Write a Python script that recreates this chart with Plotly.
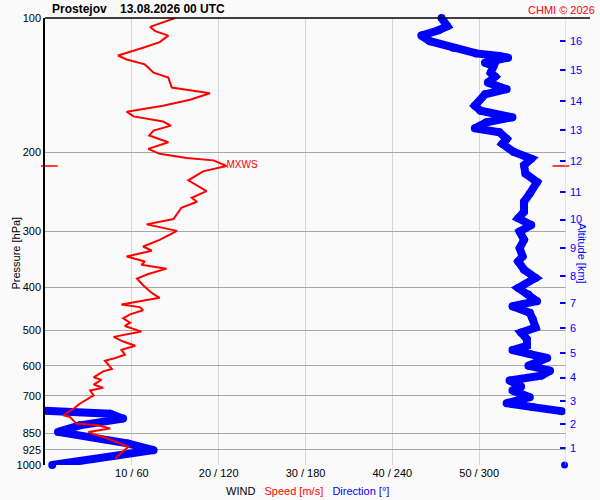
import plotly.graph_objects as go

# wind speed profile (red), m/s vs pressure hPa
speed_p = [100.0, 104.7, 107.0, 109.5, 113.2, 116.6, 121.3, 123.8, 127.0, 132.5,
           135.9, 143.1, 144.8, 147.3, 152.3, 157.1, 162.0, 166.0, 170.5, 174.1,
           178.6, 183.2, 189.6, 196.2, 201.3, 205.8, 208.2, 214.3, 220.3, 230.7,
           244.0, 252.5, 257.7, 265.7, 281.6, 289.5, 299.4, 313.5, 324.5, 331.7,
           341.5, 350.4, 356.3, 363.7, 373.9, 382.8, 396.1, 412.1, 422.7, 430.0,
           437.3, 443.4, 450.8, 460.2, 469.7, 480.4, 488.6, 503.0, 516.8, 529.4,
           541.2, 552.4, 566.7, 576.3, 584.4, 609.8, 617.3, 636.6, 645.1, 660.7,
           672.0, 681.3, 699.0, 729.3, 748.2, 774.3, 781.1, 808.0, 815.1, 829.0,
           843.3, 853.4, 868.0, 910.8, 941.9, 966.3]
speed = [15.0, 12.1, 12.7, 14.2, 13.2, 11.3, 8.4, 9.4, 11.5, 12.5,
         14.2, 14.6, 16.3, 19.0, 16.7, 13.6, 9.4, 10.2, 13.6, 14.5,
         12.5, 12.0, 14.2, 11.9, 13.2, 16.3, 19.4, 20.9, 18.2, 16.5,
         18.6, 16.9, 17.5, 15.7, 14.8, 11.7, 15.2, 13.2, 11.3, 12.3,
         9.4, 11.5, 11.1, 14.0, 11.9, 10.6, 11.3, 12.3, 13.2, 10.9,
         8.8, 10.9, 11.3, 9.8, 9.0, 9.8, 9.2, 11.1, 7.9, 9.0,
         10.4, 8.8, 9.2, 8.1, 6.9, 7.7, 6.7, 5.6, 6.5, 5.6,
         6.7, 5.2, 5.6, 4.0, 3.3, 2.1, 2.9, 3.6, 6.1, 7.5,
         5.0, 5.6, 6.9, 9.6, 8.8, 8.1]

# wind direction profile (blue), degrees; None = wrap through north
dir_p = [100.0, 104.3, 106.5, 109.5, 112.7, 116.6, 120.0, 121.6, 122.7, 125.9,
         128.0, 132.5, 135.2, 139.5, 144.3, 148.1, 157.1, 161.2, 166.8, 171.1,
         176.5, 180.2, 186.4, 191.2, 199.5, 206.5, 213.6, 222.9, 232.7, 247.0,
         257.7, 271.3, 280.7, 290.4, 300.5, 313.5, 327.3, 341.5, 350.4, 365.6,
         381.6, 401.6, 415.5, 430.0, 441.2, 456.6, 472.1, 492.8, 505.6, 523.0,
         541.2, 553.3, 564.7, 576.3, 599.5, 615.1, 631.0, 647.3, 667.5, 681.3,
         705.1, 727.1, 742.1, 757.7, None, 755.0, 767.6, 787.5, 815.1, 843.3,
         894.8, 926.3, 1000.0]
direction = [274, 278, 272, 260, 266, 282, 298, 314, 320, 304,
             310, 308, 311, 306, 319, 304, 297, 301, 323, 305,
             297, 314, 319, 316, 324, 336, 331, 332, 340, 335,
             331, 331, 327, 336, 328, 331, 328, 330, 327, 331,
             339, 327, 334, 340, 323, 335, 337, 339, 329, 333,
             333, 323, 335, 347, 334, 349, 343, 321, 329, 323,
             335, 319, 337, 357, None, -5, 45, 54, 24, 9,
             57, 75, 5]

press_ticks = [100, 200, 300, 400, 500, 600, 700, 850, 925, 1000]
x_ticks = [60, 120, 180, 240, 300]
x_labels = ["10 / 60", "20 / 120", "30 / 180", "40 / 240", "50 / 300"]
alt_km = [1, 2, 3, 4, 5, 6, 7, 8, 9, 10, 11, 12, 13, 14, 15, 16]
alt_p = [916.8, 810.6, 720.7, 637.5, 561.0, 493.5, 433.6, 378.2, 327.8, 282.5,
         244.8, 209.3, 178.0, 153.2, 130.9, 112.7]
surface_p = [1000]

BLUE = "#0000ff"
RED = "#ff0000"
FONT = "Liberation Sans, Arial, sans-serif"

imax = speed.index(max(speed))
mxws_p = speed_p[imax]

fig = go.Figure()

fig.add_trace(go.Scatter(x=direction, y=dir_p, mode="lines+markers",
                         line=dict(color=BLUE, width=8),
                         marker=dict(color=BLUE, size=8),
                         cliponaxis=False, hoverinfo="skip"))
# surface (0 km) dot, on the altitude axis
fig.add_trace(go.Scatter(x=[359], y=surface_p, yaxis="y2", mode="markers",
                         marker=dict(color=BLUE, size=7),
                         cliponaxis=False, hoverinfo="skip"))
fig.add_trace(go.Scatter(x=speed, y=speed_p, xaxis="x2", mode="lines",
                         line=dict(color=RED, width=2), hoverinfo="skip"))
fig.add_trace(go.Scatter(x=[speed[imax]], y=[mxws_p], xaxis="x2", mode="text",
                         text=["MXWS"], textposition="middle right",
                         textfont=dict(color=RED, size=10, family=FONT),
                         cliponaxis=False, hoverinfo="skip"))
# MXWS level marks at both plot edges
fig.add_trace(go.Scatter(x=[3, 356.5], y=[mxws_p, mxws_p], mode="markers",
                         marker=dict(symbol="line-ew", size=12,
                                     line=dict(color=RED, width=1.5)),
                         cliponaxis=False, hoverinfo="skip"))

fig.update_layout(
    width=600, height=500, autosize=False,
    margin=dict(l=45, r=34, t=15, b=35),
    paper_bgcolor="#fafafa", plot_bgcolor="#fafafa",
    showlegend=False,
    font=dict(family=FONT, size=11, color="black"),
    xaxis=dict(range=[0, 360], tickvals=x_ticks, ticktext=x_labels,
               showgrid=True, gridcolor="#d6d6d6", gridwidth=1,
               zeroline=False, showline=False, ticks=""),
    xaxis2=dict(range=[0, 60], overlaying="x", visible=False),
    yaxis=dict(type="log", range=[3, 2], tickvals=press_ticks,
               ticktext=[str(v) for v in press_ticks],
               showgrid=True, gridcolor="#a8a8a8", gridwidth=1,
               showline=True, linecolor="black", linewidth=1.5,
               zeroline=False, ticks=""),
    yaxis2=dict(type="log", range=[3, 2], overlaying="y", side="right",
                tickvals=alt_p, ticktext=[str(v) for v in alt_km],
                ticks="inside", ticklen=6, tickwidth=1.5, tickcolor=BLUE,
                tickfont=dict(color=BLUE, size=11), ticklabelstandoff=3,
                showgrid=False, showline=False, zeroline=False),
    shapes=[
        dict(type="line", xref="x", yref="paper", x0=360, x1=360, y0=0, y1=1,
             line=dict(color="#cfcfcf", width=1)),
        dict(type="line", xref="paper", yref="paper", x0=0, x1=1.046, y0=1, y1=1,
             line=dict(color="black", width=1.5)),
    ],
    annotations=[
        dict(xref="paper", yref="paper", x=0.0096, y=1, xanchor="left", yanchor="bottom",
             text="<b>Prostejov\u00a0\u00a0\u00a0\u00a013.08.2026 00 UTC</b>",
             showarrow=False, font=dict(size=12, color="black")),
        dict(xref="paper", yref="paper", x=1.0595, y=1, xanchor="right", yanchor="bottom",
             text="CHMI © 2026", showarrow=False, font=dict(size=11, color=RED)),
        dict(xref="paper", yref="paper", x=-0.071, y=0.473, textangle=-90,
             text="Pressure [hPa]", showarrow=False, font=dict(size=11, color="black")),
        dict(xref="paper", yref="paper", x=1.047, y=0.473, textangle=90,
             text="Altitude [km]", showarrow=False, font=dict(size=11, color=BLUE)),
        dict(xref="paper", yref="paper", x=0.503, y=-0.058, yanchor="middle",
             text="WIND\u00a0\u00a0\u00a0<span style='color:#ff0000'>Speed [m/s]</span>"
                  "\u00a0\u00a0\u00a0<span style='color:#0000ff'>Direction [°]</span>",
             showarrow=False, font=dict(size=11, color="black")),
    ],
)

fig.write_html("out.html", config={"displayModeBar": False},
               post_script="document.body.style.margin='0px';")
